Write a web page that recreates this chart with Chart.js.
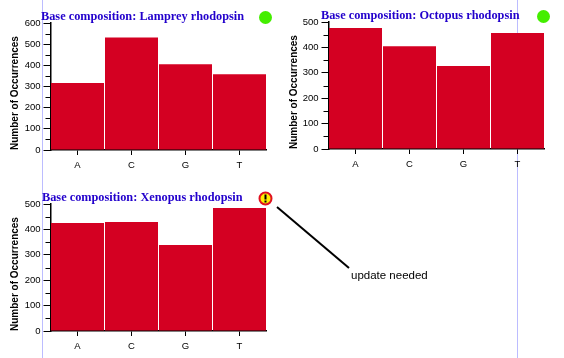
<!DOCTYPE html>
<html>
<head>
<meta charset="utf-8">
<script src="https://cdn.jsdelivr.net/npm/chart.js@4/dist/chart.umd.min.js"></script>
<style>
    html, body { margin: 0; padding: 0; background: #fff; }
    body { position: relative; width: 564px; height: 358px; overflow: hidden; }
    canvas { position: absolute; }
    .rule { position: absolute; top: 0; width: 1px; height: 358px; background: #bcbcff; }
    #note { position: absolute; left: 351px; top: 269px; font: 11.5px "Liberation Sans", sans-serif; color: #000; }
    #pointer { position: absolute; left: 0; top: 0; }
</style>
</head>
<body>
<div class="rule" style="left:42px"></div>
<div class="rule" style="left:517px"></div>
<div style="position:absolute;left:0;top:0;width:282px;height:180px"><canvas id="lamprey"></canvas></div>
<div style="position:absolute;left:278px;top:-1px;width:282px;height:180px"><canvas id="octopus"></canvas></div>
<div style="position:absolute;left:0;top:181px;width:282px;height:180px"><canvas id="xenopus"></canvas></div>
<svg id="pointer" width="564" height="358"><line x1="277" y1="207" x2="349" y2="268" stroke="#000" stroke-width="2"/></svg>
<div id="note">update needed</div>
<script>
const categories = ['A', 'C', 'G', 'T'];
const lampreyValues = [316, 532, 405, 358];
const octopusValues = [476, 405, 327, 457];
const xenopusValues = [425, 429, 339, 484];

// Draws the title, the status icon and the small unlabelled y ticks
const extrasPlugin = {
    id: 'extras',
    afterDraw(chart, args, opts) {
        const { ctx, chartArea, scales } = chart;
        ctx.save();

        // Minor ticks halfway between the labelled ones
        ctx.strokeStyle = '#000';
        ctx.lineWidth = 1;
        for (let v = 50; v < scales.y.max; v += 100) {
            const y = Math.round(scales.y.getPixelForValue(v)) + 0.5;
            ctx.beginPath();
            ctx.moveTo(chartArea.left - 5, y);
            ctx.lineTo(chartArea.left, y);
            ctx.stroke();
        }

        ctx.font = 'bold 12.3px "Liberation Serif", serif';
        ctx.fillStyle = '#2200cc';
        ctx.textBaseline = 'alphabetic';
        ctx.fillText(opts.title, opts.titleX, chartArea.top - 3);

        const cx = chartArea.right - 1;
        const cy = chartArea.top - 5.5;
        if (opts.status === 'ok') {
            ctx.fillStyle = '#44ee00';
            ctx.beginPath();
            ctx.arc(cx, cy, 6.5, 0, Math.PI * 2);
            ctx.fill();
        } else {
            ctx.fillStyle = '#ffee00';
            ctx.strokeStyle = '#e01020';
            ctx.lineWidth = 2;
            ctx.beginPath();
            ctx.arc(cx, cy, 6, 0, Math.PI * 2);
            ctx.fill();
            ctx.stroke();
            ctx.fillStyle = '#000';
            ctx.fillRect(cx - 1, cy - 4, 2, 5);
            ctx.fillRect(cx - 1, cy + 2, 2, 2);
        }
        ctx.restore();
    }
};

function makeChart(id, title, values, yMax, titleX, status, yTitleGap) {
    const canvas = document.getElementById(id);
    canvas.width = 282;
    canvas.height = 180;
    return new Chart(canvas.getContext('2d'), {
        type: 'bar',
        data: {
            labels: categories,
            datasets: [{
                data: values,
                backgroundColor: '#d40022',
                barPercentage: 53 / 54,
                categoryPercentage: 1
            }]
        },
        plugins: [extrasPlugin],
        options: {
            responsive: false,
            animation: false,
            layout: { padding: { top: 23, right: 15.5 } },
            plugins: {
                legend: { display: false },
                tooltip: { enabled: false },
                extras: { title, titleX, status }
            },
            scales: {
                x: {
                    afterFit: scale => { scale.height = 30; },
                    border: { color: '#000', width: 1.5 },
                    grid: { offset: false, drawOnChartArea: false, tickLength: 5, tickColor: '#000' },
                    ticks: { color: '#000', padding: 5, font: { family: '"Liberation Sans"', size: 9.5 } }
                },
                y: {
                    min: 0,
                    max: yMax,
                    afterFit: scale => { scale.width = 50.5; },
                    border: { color: '#000', width: 1.5 },
                    grid: { drawOnChartArea: false, tickLength: 7, tickColor: '#000' },
                    ticks: { stepSize: 100, color: '#000', padding: 3, font: { family: '"Liberation Sans"', size: 9.5 } },
                    title: {
                        display: true,
                        text: 'Number of Occurrences',
                        align: 'start',
                        color: '#000',
                        padding: { top: yTitleGap, bottom: 0 },
                        font: { family: '"Liberation Sans"', size: 10, weight: 'bold' }
                    }
                }
            }
        }
    });
}

makeChart('lamprey', 'Base composition: Lamprey rhodopsin', lampreyValues, 600, 41, 'ok', 9);
makeChart('octopus', 'Base composition: Octopus rhodopsin', octopusValues, 500, 43, 'ok', 10.5);
makeChart('xenopus', 'Base composition: Xenopus rhodopsin', xenopusValues, 500, 42, 'warn', 9);
</script>
</body>
</html>
